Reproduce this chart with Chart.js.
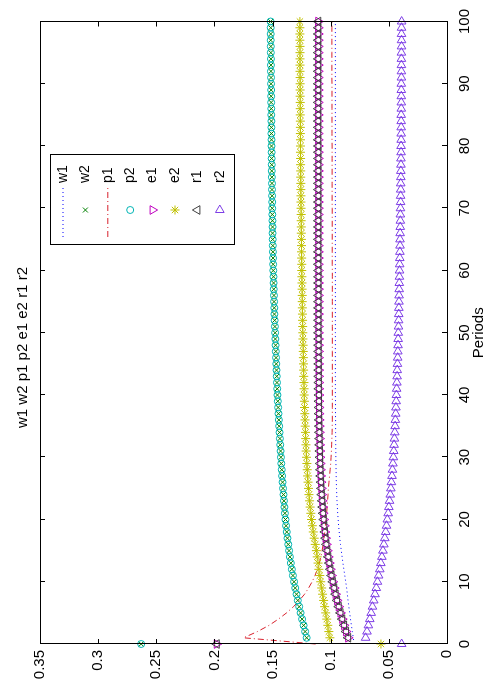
<!DOCTYPE html>
<html>
<head>
<meta charset="UTF-8">
<title>w1 w2 p1 p2 e1 e2 r1 r2</title>
<script src="https://cdn.jsdelivr.net/npm/chart.js"></script>
<style>
  body { margin: 0; background: #fff; }
  /* the figure is shown turned a quarter turn counter-clockwise */
  #wrap { position: absolute; left: 0; top: 0; width: 689px; height: 489px;
          transform-origin: 0 0; transform: translate(0, 689px) rotate(-90deg); }
</style>
</head>
<body>
<div id="wrap"><canvas id="chart" width="689" height="489"></canvas></div>

<script>
// Periods 0..100 on the x axis
var periods = [];
for (var i = 0; i <= 100; i++) periods.push(i);

var xTicks = [0, 10, 20, 30, 40, 50, 60, 70, 80, 90, 100];
var yTicks = [0, 0.05, 0.1, 0.15, 0.2, 0.25, 0.3, 0.35];
var yTickLabels = ['0', '0.05', '0.1', '0.15', '0.2', '0.25', '0.3', '0.35'];

var w1 = [0.08,
  0.0806, 0.0814, 0.0822, 0.083, 0.0837, 0.0844, 0.0851, 0.0857, 0.0863, 0.0871,
  0.0879, 0.0887, 0.0895, 0.0902, 0.0909, 0.0916, 0.0922, 0.0927, 0.0932, 0.0936,
  0.094, 0.0943, 0.0946, 0.0948, 0.095, 0.0952, 0.0953, 0.0954, 0.0955, 0.0956,
  0.0956, 0.0957, 0.0957, 0.0958, 0.0958, 0.0958, 0.0959, 0.0959, 0.0959, 0.096,
  0.096, 0.096, 0.096, 0.096, 0.096, 0.096, 0.096, 0.096, 0.096, 0.096,
  0.096, 0.096, 0.096, 0.096, 0.096, 0.096, 0.096, 0.096, 0.096, 0.096,
  0.096, 0.096, 0.096, 0.096, 0.096, 0.096, 0.096, 0.096, 0.096, 0.096,
  0.096, 0.096, 0.096, 0.096, 0.096, 0.096, 0.096, 0.096, 0.096, 0.096,
  0.096, 0.096, 0.096, 0.096, 0.096, 0.096, 0.096, 0.096, 0.096, 0.096,
  0.096, 0.096, 0.096, 0.096, 0.096, 0.096, 0.096, 0.096, 0.096, 0.096];

var p1 = [0.113,
  0.175, 0.163, 0.153, 0.145, 0.138, 0.132, 0.127, 0.1225, 0.119, 0.116,
  0.1135, 0.1115, 0.1098, 0.1085, 0.1074, 0.1065, 0.1058, 0.1051, 0.1045, 0.104,
  0.1035, 0.1031, 0.1027, 0.1023, 0.102, 0.1015, 0.101, 0.1005, 0.1, 0.0997,
  0.0994, 0.0992, 0.099, 0.0988, 0.0987, 0.0986, 0.0986, 0.0986, 0.0986, 0.0986,
  0.0986, 0.0986, 0.0986, 0.0986, 0.0986, 0.0986, 0.0986, 0.0986, 0.0986, 0.0986,
  0.0986, 0.0986, 0.0986, 0.0986, 0.0986, 0.0986, 0.0986, 0.0986, 0.0986, 0.0986,
  0.0987, 0.0987, 0.0987, 0.0987, 0.0987, 0.0987, 0.0987, 0.0987, 0.0987, 0.0987,
  0.0988, 0.0988, 0.0988, 0.0988, 0.0988, 0.0988, 0.0988, 0.0988, 0.0988, 0.0988,
  0.0989, 0.0989, 0.0989, 0.0989, 0.0989, 0.0989, 0.0989, 0.0989, 0.0989, 0.0989,
  0.099, 0.099, 0.099, 0.099, 0.099, 0.099, 0.099, 0.099, 0.099, 0.099];

var p2 = [0.263,
  0.1207, 0.122, 0.1233, 0.1246, 0.1259, 0.1271, 0.1283, 0.1294, 0.1305, 0.1315,
  0.1325, 0.1334, 0.1343, 0.1351, 0.1358, 0.1365, 0.1372, 0.1378, 0.1384, 0.1389,
  0.1394, 0.1398, 0.1402, 0.1406, 0.141, 0.1414, 0.1418, 0.1421, 0.1425, 0.1428,
  0.1431, 0.1434, 0.1437, 0.144, 0.1443, 0.1446, 0.1449, 0.1452, 0.1455, 0.1458,
  0.146, 0.1462, 0.1464, 0.1466, 0.1468, 0.147, 0.1472, 0.1474, 0.1476, 0.1478,
  0.148, 0.1482, 0.1484, 0.1485, 0.1487, 0.1488, 0.149, 0.1491, 0.1492, 0.1494,
  0.1495, 0.1496, 0.1497, 0.1498, 0.1499, 0.15, 0.15, 0.1501, 0.1502, 0.1503,
  0.1503, 0.1504, 0.1505, 0.1505, 0.1506, 0.1507, 0.1507, 0.1508, 0.1508, 0.1509,
  0.1509, 0.151, 0.151, 0.151, 0.1511, 0.1511, 0.1512, 0.1512, 0.1512, 0.1513,
  0.1513, 0.1514, 0.1514, 0.1514, 0.1515, 0.1515, 0.1516, 0.1516, 0.1516, 0.1517];

// w2 markers sit right on top of p2 in the picture
var w2 = p2;

var e1 = [0.198,
  0.085, 0.0868, 0.0885, 0.0901, 0.0916, 0.0931, 0.0945, 0.0958, 0.097, 0.0982,
  0.0993, 0.1003, 0.1012, 0.1021, 0.1029, 0.1037, 0.1044, 0.105, 0.1055, 0.106,
  0.1065, 0.1069, 0.1073, 0.1077, 0.108, 0.1083, 0.1086, 0.1088, 0.109, 0.1092,
  0.1093, 0.1095, 0.1096, 0.1097, 0.1098, 0.1099, 0.11, 0.11, 0.1101, 0.1101,
  0.1102, 0.1102, 0.1103, 0.1103, 0.1103, 0.1104, 0.1104, 0.1104, 0.1104, 0.1105,
  0.1105, 0.1105, 0.1105, 0.1105, 0.1105, 0.1105, 0.1105, 0.1105, 0.1105, 0.1105,
  0.1106, 0.1106, 0.1106, 0.1106, 0.1106, 0.1106, 0.1106, 0.1106, 0.1106, 0.1106,
  0.1106, 0.1106, 0.1106, 0.1106, 0.1106, 0.1106, 0.1106, 0.1106, 0.1106, 0.1106,
  0.1107, 0.1107, 0.1107, 0.1107, 0.1107, 0.1107, 0.1107, 0.1107, 0.1107, 0.1107,
  0.1107, 0.1107, 0.1107, 0.1107, 0.1107, 0.1107, 0.1107, 0.1107, 0.1107, 0.1107];

var e2 = [0.0568,
  0.1007, 0.1016, 0.1025, 0.1034, 0.1043, 0.1052, 0.1061, 0.107, 0.1078, 0.1086,
  0.1094, 0.1102, 0.1109, 0.1116, 0.1123, 0.1133, 0.1142, 0.115, 0.1158, 0.1165,
  0.1171, 0.1177, 0.1182, 0.1187, 0.1191, 0.1195, 0.1199, 0.1202, 0.1205, 0.1208,
  0.1211, 0.1213, 0.1215, 0.1217, 0.1219, 0.1221, 0.1223, 0.1225, 0.1226, 0.1228,
  0.1229, 0.123, 0.1232, 0.1233, 0.1234, 0.1235, 0.1236, 0.1237, 0.1239, 0.124,
  0.1241, 0.1242, 0.1243, 0.1244, 0.1245, 0.1245, 0.1246, 0.1247, 0.1248, 0.1249,
  0.1249, 0.125, 0.1251, 0.1251, 0.1252, 0.1253, 0.1253, 0.1254, 0.1254, 0.1255,
  0.1256, 0.1256, 0.1257, 0.1257, 0.1258, 0.1258, 0.1259, 0.1259, 0.126, 0.126,
  0.126, 0.1261, 0.1261, 0.1261, 0.1262, 0.1262, 0.1262, 0.1263, 0.1263, 0.1263,
  0.1263, 0.1264, 0.1264, 0.1264, 0.1264, 0.1264, 0.1265, 0.1265, 0.1265, 0.1265];

// r1 markers sit right on top of e1 in the picture
var r1 = e1;

var r2 = [0.039,
  0.07, 0.0688, 0.0676, 0.0664, 0.0652, 0.0641, 0.063, 0.0619, 0.0608, 0.0598,
  0.0588, 0.0578, 0.0569, 0.056, 0.0551, 0.0543, 0.0535, 0.0527, 0.052, 0.0513,
  0.0506, 0.05, 0.0494, 0.0488, 0.0483, 0.0478, 0.0473, 0.0469, 0.0465, 0.0461,
  0.0458, 0.0455, 0.0452, 0.0449, 0.0446, 0.0444, 0.0441, 0.0439, 0.0437, 0.0435,
  0.0433, 0.0431, 0.0429, 0.0428, 0.0426, 0.0424, 0.0423, 0.0421, 0.042, 0.0419,
  0.0417, 0.0416, 0.0415, 0.0414, 0.0413, 0.0412, 0.0411, 0.041, 0.0409, 0.0408,
  0.0407, 0.0406, 0.0405, 0.0404, 0.0404, 0.0403, 0.0402, 0.0401, 0.0401, 0.04,
  0.0399, 0.0399, 0.0398, 0.0398, 0.0397, 0.0397, 0.0396, 0.0396, 0.0395, 0.0395,
  0.0394, 0.0394, 0.0394, 0.0394, 0.0394, 0.0393, 0.0393, 0.0393, 0.0393, 0.0393,
  0.0392, 0.0392, 0.0392, 0.0392, 0.0392, 0.0391, 0.0391, 0.0391, 0.0391, 0.039];

var FONT = 'Liberation Sans, Arial, sans-serif';

function pts(values) {
    return values.map(function (v, i) { return { x: periods[i], y: v }; });
}

// line series: no markers; marker series: no line
function lineSet(label, values, color, dash) {
    return { label: label, data: pts(values), borderColor: color, borderWidth: 1,
             borderDash: dash, pointRadius: 0, showLine: true, fill: false, clip: false };
}
function markSet(label, values, color, style, radius, rotation) {
    return { label: label, data: pts(values), borderColor: color, showLine: false,
             pointStyle: style, pointRadius: radius, pointRotation: rotation || 0,
             pointBorderWidth: 1, pointBorderColor: color,
             pointBackgroundColor: 'rgba(0,0,0,0)', clip: false };
}

var datasets = [
    lineSet('w1', w1, '#0000ff', [1, 3]),
    markSet('w2', w2, '#008000', 'crossRot', 3.5),
    lineSet('p1', p1, '#d8202c', [6, 3, 1, 3]),
    markSet('p2', p2, '#00b5b5', 'circle', 3.5),
    markSet('e1', e1, '#bf00bf', 'triangle', 5, 180),
    markSet('e2', e2, '#c0c000', 'star', 4.5),
    markSet('r1', r1, '#404040', 'triangle', 5, 0),
    markSet('r2', r2, '#7e3ee6', 'triangle', 5, 90)
];
// later series drawn on top, as in the original figure
datasets.forEach(function (ds, i) { ds.order = datasets.length - i; });

// box around the axes with inward tick marks on all four sides
var axesBox = {
    id: 'axesBox',
    afterDatasetsDraw: function (chart) {
        var ctx = chart.ctx, a = chart.chartArea;
        var xs = chart.scales.x, ys = chart.scales.y;
        ctx.save();
        ctx.strokeStyle = '#000';
        ctx.lineWidth = 1;
        ctx.strokeRect(Math.round(a.left) + 0.5, Math.round(a.top) + 0.5,
                       Math.round(a.right - a.left), Math.round(a.bottom - a.top));
        ctx.beginPath();
        xTicks.forEach(function (t) {
            var x = Math.round(xs.getPixelForValue(t)) + 0.5;
            ctx.moveTo(x, a.bottom); ctx.lineTo(x, a.bottom - 5);
            ctx.moveTo(x, a.top); ctx.lineTo(x, a.top + 5);
        });
        yTicks.forEach(function (t) {
            var y = Math.round(ys.getPixelForValue(t)) + 0.5;
            ctx.moveTo(a.left, y); ctx.lineTo(a.left + 5, y);
            ctx.moveTo(a.right, y); ctx.lineTo(a.right - 5, y);
        });
        ctx.stroke();
        ctx.restore();
    }
};

// MATLAB-style legend box inside the axes
var legendBox = {
    id: 'legendBox',
    afterDraw: function (chart) {
        var ctx = chart.ctx;
        var bx = 444, by = 50, bw = 90, bh = 184;
        ctx.save();
        ctx.fillStyle = '#fff';
        ctx.fillRect(bx, by, bw, bh);
        ctx.strokeStyle = '#000';
        ctx.lineWidth = 1;
        ctx.strokeRect(bx + 0.5, by + 0.5, bw, bh);
        chart.data.datasets.forEach(function (ds, i) {
            var y = by + 13 + i * 22.4;
            ctx.strokeStyle = ds.borderColor;
            ctx.lineWidth = 1;
            if (ds.showLine) {
                ctx.setLineDash(ds.borderDash);
                ctx.beginPath();
                ctx.moveTo(bx + 8, y); ctx.lineTo(bx + 58, y);
                ctx.stroke();
                ctx.setLineDash([]);
            } else {
                ctx.fillStyle = 'rgba(0,0,0,0)';
                Chart.helpers.drawPoint(ctx, {
                    pointStyle: ds.pointStyle, radius: ds.pointRadius,
                    rotation: ds.pointRotation, borderWidth: 1
                }, bx + 35, y);
            }
            ctx.fillStyle = '#000';
            ctx.font = '14px ' + FONT;
            ctx.textAlign = 'left';
            ctx.textBaseline = 'middle';
            ctx.fillText(ds.label, bx + 62, y);
        });
        ctx.restore();
    }
};

new Chart(document.getElementById('chart'), {
    type: 'scatter',
    data: { datasets: datasets },
    options: {
        responsive: false,
        animation: false,
        layout: { padding: { left: 0, right: 6, top: 0, bottom: 0 } },
        plugins: {
            legend: { display: false },
            tooltip: { enabled: false },
            title: {
                display: true,
                text: 'w1 w2 p1 p2 e1 e2 r1 r2',
                color: '#000',
                font: { family: FONT, size: 15, weight: 'normal' },
                padding: { top: 14, bottom: 8 }
            }
        },
        scales: {
            x: {
                type: 'linear', min: 0, max: 100,
                afterBuildTicks: function (s) { s.ticks = xTicks.map(function (v) { return { value: v }; }); },
                afterFit: function (s) { s.height = 42; },
                ticks: { color: '#000', padding: 9, maxRotation: 0,
                         font: { family: FONT, size: 15 } },
                grid: { display: false, drawTicks: false },
                border: { display: false },
                title: { display: true, text: 'Periods', color: '#000',
                         font: { family: FONT, size: 15 }, padding: { top: 0, bottom: 1 } }
            },
            y: {
                type: 'linear', min: 0, max: 0.35,
                afterBuildTicks: function (s) { s.ticks = yTicks.map(function (v) { return { value: v }; }); },
                afterFit: function (s) { s.width = 45; },
                ticks: {
                    color: '#000', padding: 6,
                    font: { family: FONT, size: 15 },
                    callback: function (v, i) { return yTickLabels[i]; }
                },
                grid: { display: false, drawTicks: false },
                border: { display: false }
            }
        }
    },
    plugins: [axesBox, legendBox]
});
</script>
</body>
</html>
